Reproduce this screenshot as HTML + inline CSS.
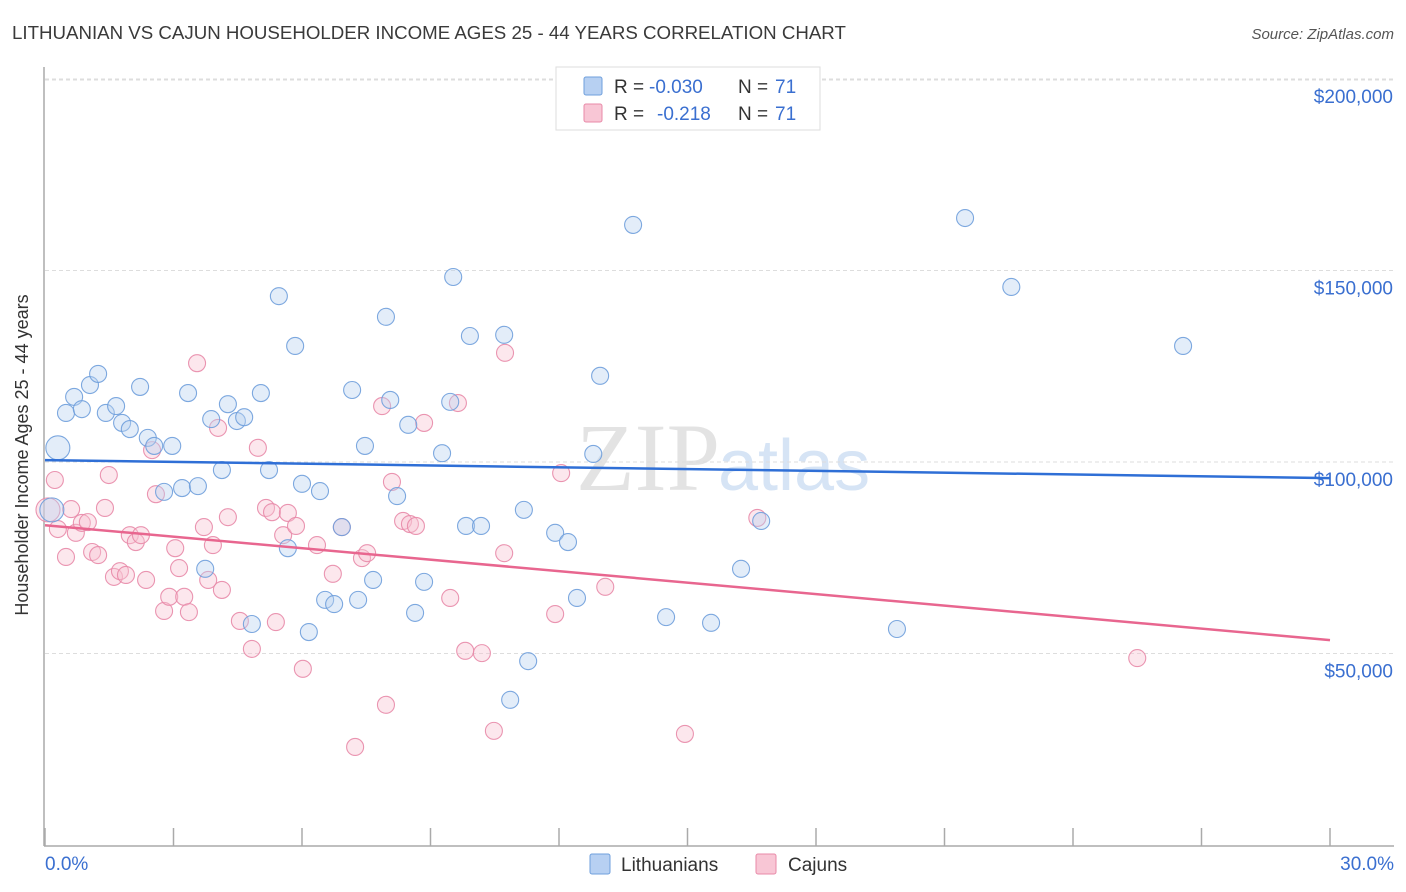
<!DOCTYPE html>
<html><head><meta charset="utf-8"><style>
body{margin:0;background:#fff;font-family:"Liberation Sans",sans-serif;}
svg{display:block}
</style></head><body>
<svg id="chart" width="1406" height="892" xmlns="http://www.w3.org/2000/svg">
<text x="12" y="39" font-size="18.7" fill="#3a3a3a">LITHUANIAN VS CAJUN HOUSEHOLDER INCOME AGES 25 - 44 YEARS CORRELATION CHART</text>
<text x="1394" y="39" font-size="15" font-style="italic" fill="#555" text-anchor="end">Source: ZipAtlas.com</text>
<text x="720" y="490" font-size="96" fill="#e3e3e3" text-anchor="end" font-family="Liberation Serif,serif">ZIP</text>
<text x="718" y="490" font-size="72" fill="#d6e4f5">atlas</text>
<g id="grid"></g><g id="axes"></g><g id="pts"></g><g id="trends"></g>
<text x="28" y="455" font-size="18" fill="#333" text-anchor="middle" transform="rotate(-90 28 455)">Householder Income Ages 25 - 44 years</text>
<g>
<rect x="556" y="67" width="264" height="63" fill="#fff" stroke="#ddd"/>
<rect x="584" y="77" width="18" height="18" fill="#b7d0f2" stroke="#6f9fdc" rx="2"/>
<rect x="584" y="104" width="18" height="18" fill="#f8c6d5" stroke="#e88aa8" rx="2"/>
<text x="614" y="93" font-size="19" fill="#333">R =</text>
<text x="649" y="93" font-size="19" fill="#3a6fd0">-0.030</text>
<text x="738" y="93" font-size="19" fill="#333">N =</text>
<text x="775" y="93" font-size="19" fill="#3a6fd0">71</text>
<text x="614" y="120" font-size="19" fill="#333">R =</text>
<text x="657" y="120" font-size="19" fill="#3a6fd0">-0.218</text>
<text x="738" y="120" font-size="19" fill="#333">N =</text>
<text x="775" y="120" font-size="19" fill="#3a6fd0">71</text>
</g>
<g>
<rect x="590" y="854" width="20" height="20" fill="#b7d0f2" stroke="#6f9fdc" rx="2"/>
<text x="621" y="871" font-size="19" fill="#333">Lithuanians</text>
<rect x="756" y="854" width="20" height="20" fill="#f8c6d5" stroke="#e88aa8" rx="2"/>
<text x="788" y="871" font-size="19" fill="#333">Cajuns</text>
</g>
</svg>
<script>
const yTicks=[50000,100000,150000,200000];
const yTickLabels=["$50,000","$100,000","$150,000","$200,000"];
const xTicks=[0,3,6,9,12,15,18,21,24,27,30];
const blueX=[0.16,0.30,0.49,0.68,0.86,1.05,1.24,1.42,1.66,1.80,1.98,2.22,2.40,2.55,2.78,2.97,3.20,3.34,3.57,3.74,3.88,4.13,4.27,4.48,4.65,4.83,5.04,5.23,5.46,5.67,5.84,6.00,6.16,6.42,6.54,6.75,6.93,7.17,7.31,7.47,7.66,7.96,8.06,8.22,8.48,8.64,8.85,9.27,9.46,9.53,9.83,9.92,10.18,10.72,11.18,11.28,10.86,11.91,12.21,12.42,12.80,12.96,13.73,14.50,15.55,16.25,16.72,19.89,21.48,22.56,26.57];
const blueY=[87.5,103.7,112.8,117.0,113.8,120.1,123.0,112.8,114.6,110.2,108.6,119.6,106.3,104.2,92.2,104.2,93.2,118.0,93.7,72.1,111.2,97.9,115.1,110.7,111.7,57.7,118.0,97.9,143.3,77.5,130.3,94.3,55.6,92.4,64.0,62.9,83.0,118.8,64.0,104.2,69.2,137.9,116.2,91.1,109.7,60.6,68.7,102.3,115.7,148.3,83.3,132.9,83.3,133.2,87.5,48.0,37.9,81.5,79.1,64.5,102.1,122.5,161.9,59.5,58.0,72.1,84.6,56.4,163.7,145.7,130.3];
const pinkX=[0.07,0.23,0.30,0.49,0.61,0.72,0.86,1.00,1.10,1.24,1.40,1.49,1.61,1.75,1.89,1.98,2.12,2.24,2.36,2.50,2.59,2.78,2.90,3.04,3.13,3.25,3.36,3.55,3.71,3.81,3.92,4.04,4.13,4.27,4.55,4.83,4.97,5.16,5.30,5.39,5.56,5.67,5.86,6.02,6.35,6.72,6.93,7.24,7.40,7.52,7.87,7.96,8.10,8.36,8.52,8.66,8.85,9.46,9.64,9.81,10.20,10.48,10.72,10.74,11.91,12.05,13.08,14.94,16.63,25.50];
const pinkY=[87.5,95.3,82.5,75.2,87.7,81.5,84.1,84.3,76.5,75.7,88.0,96.6,70.0,71.5,70.5,80.9,79.1,80.9,69.2,103.1,91.6,61.1,64.8,77.5,72.3,64.8,60.8,125.8,83.0,69.2,78.3,108.9,66.6,85.6,58.5,51.2,103.7,88.0,86.9,58.2,80.9,86.7,83.3,46.0,78.3,70.8,83.0,25.6,74.9,76.2,114.6,36.6,94.8,84.6,83.8,83.3,110.2,64.5,115.4,50.7,50.1,29.8,76.2,128.5,60.3,97.1,67.4,29.0,85.4,48.8];
const blueTrend=[100.5,95.8];
const pinkTrend=[83.5,53.5];
const NS="http://www.w3.org/2000/svg";
const xs=v=>45+v/30*1285;
const ys=k=>462-(k-100)*191.5/50;
function mk(tag,attrs,parent){const e=document.createElementNS(NS,tag);for(const k in attrs)e.setAttribute(k,attrs[k]);document.getElementById(parent).appendChild(e);return e;}
yTicks.forEach((t,i)=>{const y=ys(t/1000);
const g=mk('line',{x1:45,x2:1394,y1:y,y2:y,stroke:'#ddd','stroke-dasharray':'4 3'},'grid');


const l=mk('text',{x:1393,y:y+24,'font-size':19,fill:'#3a6fd0','text-anchor':'end'},'axes');
l.textContent=yTickLabels[i];

});
{const top=mk('line',{x1:45,x2:1394,y1:80,y2:80,stroke:'#ddd','stroke-dasharray':'4 3'},'grid');

}
const ya=mk('line',{x1:44,x2:44,y1:67,y2:846,stroke:'#aaa','stroke-width':1.5},'axes');


const xa=mk('line',{x1:44,x2:1394,y1:846,y2:846,stroke:'#aaa','stroke-width':1.5},'axes');


xTicks.forEach(t=>{const x=xs(t);
const tk=mk('line',{x1:x,x2:x,y1:828,y2:846,stroke:'#aaa','stroke-width':1.5},'axes');

});
[[0,'0.0%','start',45],[30,'30.0%','end',1394]].forEach(a=>{const l=mk('text',{x:a[3],y:870,'font-size':19,fill:'#3a6fd0','text-anchor':a[2]},'axes');
l.textContent=a[1];

});
function pts(X,Y,fill,stroke,name){X.forEach((x,i)=>{const r=(i===0||(name==='lithuanian-point'&&i===1))?12:8.5;
const c=mk('circle',{cx:xs(x),cy:ys(Y[i]),r:r,fill:fill,'fill-opacity':0.4,stroke:stroke,'stroke-width':1.1,'stroke-opacity':0.9},'pts');

});}
pts(pinkX,pinkY,'#f7c3d3','#e88aa8','cajun-point');
pts(blueX,blueY,'#b9d1f1','#6f9fdc','lithuanian-point');
const bt=mk('line',{x1:xs(0),x2:xs(30),y1:ys(blueTrend[0]),y2:ys(blueTrend[1]),stroke:'#2f6fd6','stroke-width':2.5},'trends');


const pt=mk('line',{x1:xs(0),x2:xs(30),y1:ys(pinkTrend[0]),y2:ys(pinkTrend[1]),stroke:'#e8668f','stroke-width':2.5},'trends');


</script>
</body></html>
